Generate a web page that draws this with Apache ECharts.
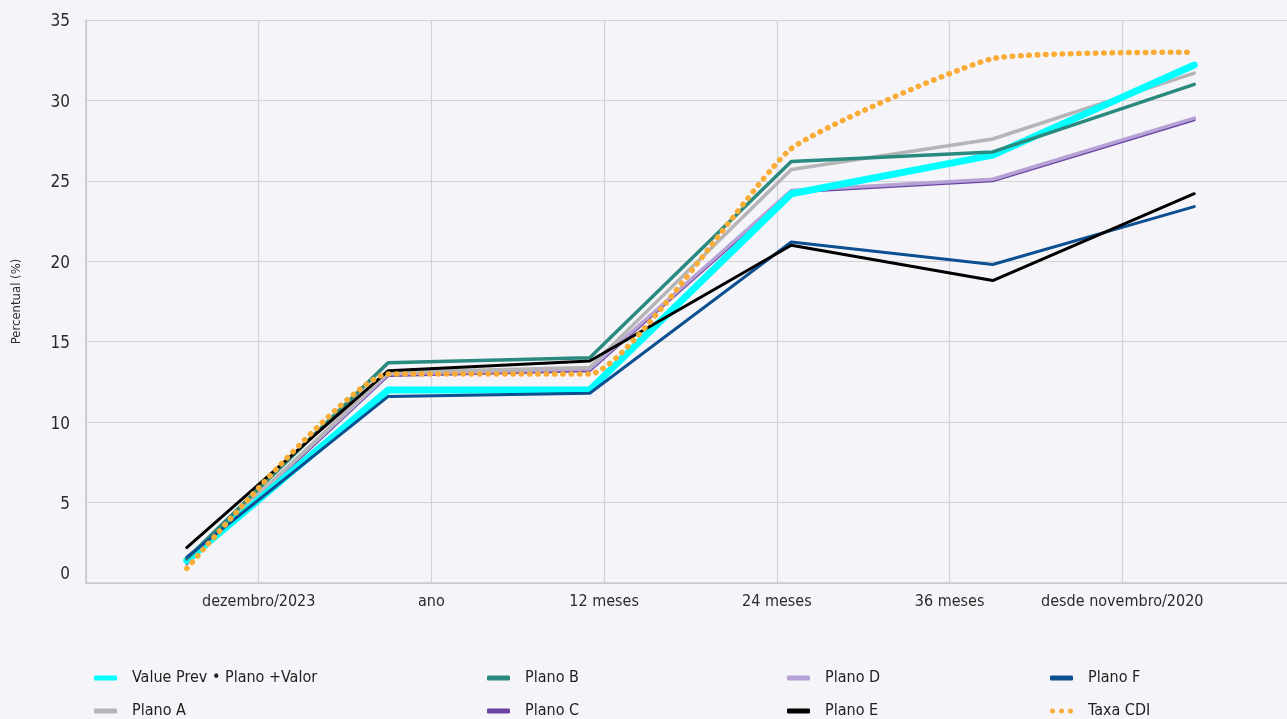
<!DOCTYPE html>
<html>
<head>
<meta charset="utf-8">
<script src="https://cdn.jsdelivr.net/npm/echarts@6/dist/echarts.min.js"></script>
<style>
html,body{margin:0;padding:0;background:#f5f4f8;}
#chart{width:1287px;height:719px;}
</style>
</head>
<body>
<div id="chart"></div>
<script>
const categories = ['dezembro/2023', 'ano', '12 meses', '24 meses', '36 meses', 'desde novembro/2020'];

const valuePrev = [1.4, 12.0, 12.0, 24.2, 26.6, 32.2];
const planoA = [1.3, 13.1, 13.4, 25.7, 27.6, 31.7];
const planoB = [1.5, 13.7, 14.0, 26.2, 26.8, 31.0];
const planoC = [1.2, 12.9, 13.2, 24.3, 25.0, 28.8];
const planoD = [1.3, 13.0, 13.3, 24.4, 25.1, 28.9];
const planoE = [2.2, 13.2, 13.8, 21.0, 18.8, 24.2];
const planoF = [1.6, 11.6, 11.8, 21.2, 19.8, 23.4];
const taxaCDI = [0.9, 13.0, 13.0, 27.0, 32.6, 33.0];

const legendColumns = [
  ['Value Prev • Plano +Valor', 'Plano A'],
  ['Plano B', 'Plano C'],
  ['Plano D', 'Plano E'],
  ['Plano F', 'Taxa CDI']
];

const colors = {
  'Value Prev • Plano +Valor': '#00ffff',
  'Plano A': '#b5b5b7',
  'Plano B': '#2a8a80',
  'Plano C': '#6a43a3',
  'Plano D': '#b7a2d6',
  'Plano E': '#000000',
  'Plano F': '#0c5092',
  'Taxa CDI': '#f9ad36'
};

const FONT = "'Liberation Sans Narrow', 'DejaVu Sans Condensed', 'Arial Narrow', sans-serif";
const DOTS_ICON = 'path://M0 2.5a2.5 2.5 0 1 0 5 0a2.5 2.5 0 1 0 -5 0zM9 2.5a2.5 2.5 0 1 0 5 0a2.5 2.5 0 1 0 -5 0zM18 2.5a2.5 2.5 0 1 0 5 0a2.5 2.5 0 1 0 -5 0z';

function lineSeries(name, data, width, extra) {
  const color = colors[name];
  return Object.assign({
    name: name,
    type: 'line',
    xAxisIndex: 0,
    data: data,
    symbol: 'none',
    lineStyle: { color: color, width: width, cap: 'round', join: 'round' },
    itemStyle: { color: color }
  }, extra || {});
}

const chart = echarts.init(document.getElementById('chart'));
const legendLeft = [94, 487, 787, 1050];

chart.setOption({
  backgroundColor: '#f5f4f8',
  animation: false,
  textStyle: { fontFamily: FONT },
  grid: { left: 86, top: 20, width: 1209, height: 563, containLabel: false, outerBoundsMode: 'none' },
  xAxis: [
    {
      type: 'category',
      data: categories,
      boundaryGap: true,
      show: false
    },
    {
      type: 'category',
      data: [''].concat(categories, ['']),
      boundaryGap: false,
      position: 'bottom',
      axisLine: { show: true, lineStyle: { color: '#c9c9cc', width: 1.5 } },
      axisTick: { show: false },
      axisLabel: { color: '#2b2b2b', fontSize: 16, fontFamily: FONT, margin: 11, interval: 0 },
      splitLine: { show: true, lineStyle: { color: '#d3d3d6', width: 1.2 } }
    }
  ],
  yAxis: {
    type: 'value',
    min: 0,
    max: 35,
    interval: 5,
    name: 'Percentual (%)',
    nameLocation: 'middle',
    nameGap: 63,
    nameTextStyle: { color: '#2b2b2b', fontSize: 13, fontFamily: FONT },
    axisLine: { show: true, lineStyle: { color: '#c9c9cc', width: 1.5 } },
    axisTick: { show: false },
    axisLabel: {
      color: '#2b2b2b', fontSize: 17, fontFamily: FONT, margin: 16,
      formatter: function (v) { return v === 0 ? '{z|0}' : '{n|' + v + '}'; },
      rich: {
        z: { fontSize: 17, fontFamily: FONT, color: '#2b2b2b', padding: [0, 0, 16, 0] },
        n: { fontSize: 17, fontFamily: FONT, color: '#2b2b2b', padding: [4, 0, 0, 0] }
      }
    },
    splitLine: { show: true, lineStyle: { color: '#d3d3d6', width: 1.2 } }
  },
  legend: legendColumns.map(function (names, i) {
    return {
      data: names.map(function (n) {
        return {
          name: n,
          icon: n === 'Taxa CDI' ? DOTS_ICON : 'roundRect',
          itemStyle: { color: colors[n], borderWidth: 0 }
        };
      }),
      orient: 'vertical',
      left: legendLeft[i],
      top: 669,
      height: 120,
      padding: 0,
      itemWidth: 23,
      itemHeight: 5,
      itemGap: 15,
      selectedMode: false,
      textStyle: { color: '#1f1f1f', fontSize: 16, fontFamily: FONT, lineHeight: 18, padding: [0, 0, 0, 10] }
    };
  }),
  series: [
    lineSeries('Plano C', planoC, 3),
    lineSeries('Plano D', planoD, 3.5),
    lineSeries('Plano A', planoA, 3.5),
    lineSeries('Value Prev • Plano +Valor', valuePrev, 7),
    lineSeries('Plano B', planoB, 3.5),
    lineSeries('Plano F', planoF, 3),
    lineSeries('Plano E', planoE, 3),
    lineSeries('Taxa CDI', taxaCDI, 5, {
      smooth: 0.15,
      lineStyle: { color: colors['Taxa CDI'], width: 5.5, cap: 'round', type: [0.5, 7.8] }
    })
  ]
});
</script>
</body>
</html>
